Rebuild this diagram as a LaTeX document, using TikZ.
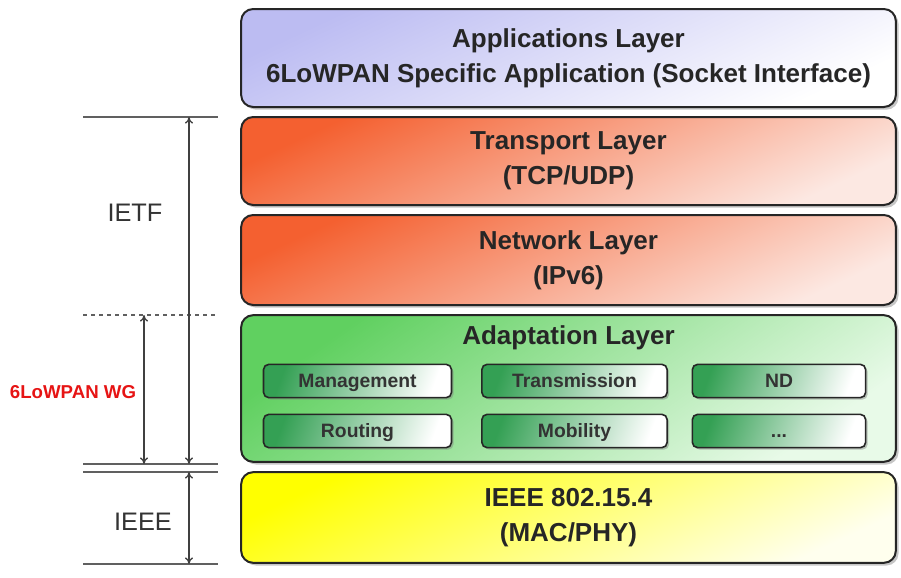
\documentclass[tikz,border=0pt]{standalone}
\usepackage{fontspec}
\setmainfont{Liberation Sans}
\usetikzlibrary{arrows.meta,shadows}

\definecolor{appcol}{RGB}{188,188,242}
\definecolor{tcpcol}{RGB}{244,96,48}
\definecolor{tcpend}{RGB}{252,232,226}
\definecolor{adaptcol}{RGB}{96,208,96}
\definecolor{adaptend}{RGB}{232,250,232}
\definecolor{subcol}{RGB}{52,160,84}
\definecolor{ieeecol}{RGB}{255,255,0}
\definecolor{ieeeend}{RGB}{255,255,238}
\definecolor{scalecol}{RGB}{96,96,96}
\definecolor{wgred}{RGB}{230,20,20}

\tikzset{
	layer/.style={draw=black!85, line width=1.5pt, rounded corners=9pt,
		minimum width=491pt, align=center, text=black!85,
		font=\bfseries\fontsize{19.5}{26}\selectfont,
		drop shadow={shadow xshift=2pt, shadow yshift=-2pt, opacity=0.45}},
	appshade/.style={top color=appcol, bottom color=white, shading angle=25},
	tcpshade/.style={top color=tcpcol, bottom color=tcpend, shading angle=25},
	adaptshade/.style={top color=adaptcol, bottom color=adaptend, shading angle=35},
	ieeeshade/.style={top color=ieeecol, bottom color=ieeeend, shading angle=25},
	subbox/.style={draw=black!85, line width=1.2pt, rounded corners=4pt,
		minimum height=25pt, top color=subcol, bottom color=white, shading angle=70,
		text=black!80, font=\bfseries\fontsize{14.5}{17}\selectfont,
		text height=11pt, text depth=2pt,
		drop shadow={shadow xshift=1.5pt, shadow yshift=-1.5pt, opacity=0.45}},
	scaleline/.style={draw=scalecol, line width=1.5pt},
	span/.style={draw=black!75, line width=1pt, {To[length=5pt,width=6pt]}-{To[length=5pt,width=6pt]}}
}

\begin{document}
\begin{tikzpicture}[x=0.75pt,y=0.75pt,yscale=-1,xscale=1]
	\useasboundingbox (0,0) rectangle (901,578);

	%Layers
	\node[layer, appshade, minimum height=73.5pt] (app) at (568.5,58) {Applications Layer\\6LoWPAN Specific Application (Socket Interface)};
	\node[layer, tcpshade, minimum height=66pt] (tcp) at (568.5,161) {Transport Layer\\(TCP/UDP)};
	\node[layer, tcpshade, minimum height=67.5pt] (net) at (568.5,260) {Network Layer\\(IPv6)};
	\node[layer, adaptshade, minimum height=110pt] (adapt) at (568.5,388.5) {};
	\node[layer, ieeeshade, minimum height=68pt] (ieee) at (568.5,517.5) {IEEE 802.15.4\\(MAC/PHY)};

	% Text Node
	\node[font=\bfseries\fontsize{19.5}{26}\selectfont, text=black!85] (adapttitle) at (568.5,338) {Adaptation Layer};

	%Adaptation blocks
	\node[subbox, minimum width=141pt] (mgmt) at (357.5,381) {Management};
	\node[subbox, minimum width=139pt] (trans) at (574.5,381) {Transmission};
	\node[subbox, minimum width=130pt] (nd) at (779,381) {ND};
	\node[subbox, minimum width=141pt] (route) at (357.5,431) {Routing};
	\node[subbox, minimum width=139pt] (mob) at (574.5,431) {Mobility};
	\node[subbox, minimum width=130pt] (more) at (779,431) {...};

	%Scale lines
	\coordinate (ietfl) at (83,117);   \coordinate (ietfr) at (218,117);
	\coordinate (wgl) at (83,315);     \coordinate (wgr) at (218,315);
	\coordinate (mida) at (83,464);    \coordinate (midb) at (218,464);
	\coordinate (midc) at (83,472);    \coordinate (midd) at (218,472);
	\coordinate (botl) at (83,564);    \coordinate (botr) at (218,564);
	\draw[scaleline] (ietfl) -- (ietfr);
	\draw[scaleline, dashed] (wgl) -- (wgr);
	\draw[scaleline] (mida) -- (midb);
	\draw[scaleline] (midc) -- (midd);
	\draw[scaleline] (botl) -- (botr);

	%Spans
	\coordinate (ietftop) at (189,117);  \coordinate (ietfbot) at (189,464);
	\coordinate (wgtop) at (144,315);    \coordinate (wgbot) at (144,464);
	\coordinate (ieeetop) at (189,472);  \coordinate (ieeebot) at (189,564);
	\draw[span] (ietftop) -- (ietfbot);
	\draw[span] (wgtop) -- (wgbot);
	\draw[span] (ieeetop) -- (ieeebot);

	% Text Node
	\node[text=black!80, font=\fontsize{19}{22}\selectfont] (ietf) at (135,213) {IETF};
	% Text Node
	\node[text=wgred, font=\bfseries\fontsize{14}{16}\selectfont] (wg) at (73,392) {6LoWPAN WG};
	% Text Node
	\node[text=black!80, font=\fontsize{19}{22}\selectfont] (ieeelab) at (143,522) {IEEE};

\end{tikzpicture}
\end{document}
